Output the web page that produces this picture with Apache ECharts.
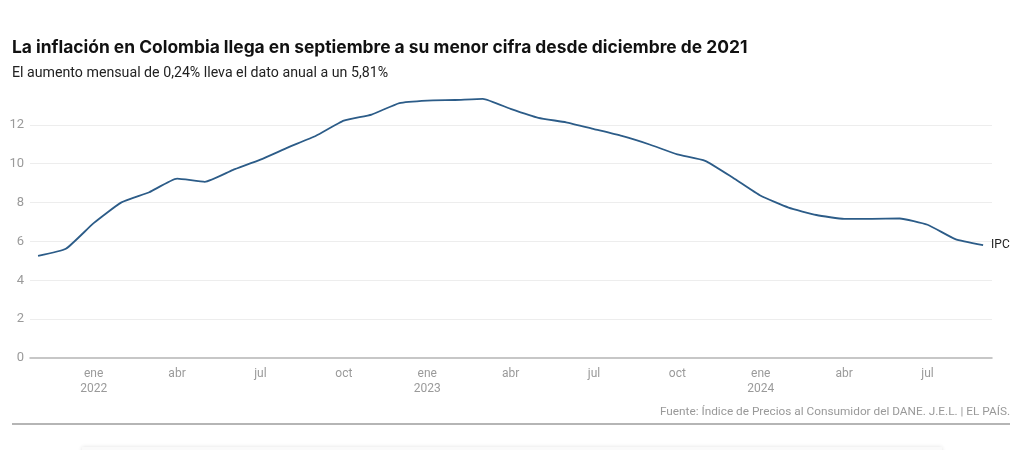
<!DOCTYPE html>
<html>
<head>
<meta charset="utf-8">
<script src="https://cdn.jsdelivr.net/npm/echarts@6/dist/echarts.min.js"></script>
<style>
html,body{margin:0;padding:0;background:#fff;}
#c{width:1024px;height:450px;}
</style>
</head>
<body>
<div id="c"></div>
<script>
// Months from nov 2021 to sep 2024
const months = ['nov21','dic21','ene22','feb22','mar22','abr22','may22','jun22','jul22','ago22','sep22','oct22','nov22','dic22',
  'ene23','feb23','mar23','abr23','may23','jun23','jul23','ago23','sep23','oct23','nov23','dic23',
  'ene24','feb24','mar24','abr24','may24','jun24','jul24','ago24','sep24'];
const ipc = [5.26,5.62,6.94,8.01,8.53,9.23,9.07,9.67,10.21,10.84,11.44,12.22,12.53,13.12,
  13.25,13.28,13.34,12.82,12.36,12.13,11.78,11.43,10.99,10.48,10.15,9.28,
  8.35,7.74,7.36,7.16,7.16,7.18,6.86,6.12,5.81];
const tickIdx = [2,5,8,11,14,17,20,23,26,29,32];
const tickLabels = ['ene\n2022','abr','jul','oct','ene\n2023','abr','jul','oct','ene\n2024','abr','jul'];
const yTicks = [0,2,4,6,8,10,12];

const chart = echarts.init(document.getElementById('c'));
const data = ipc.map((v,i)=>[i,v]);
chart.setOption({
  animation:false,
  grid:{left:30,right:32,top:86,bottom:92},
  xAxis:{
    type:'value', min:-0.29, max:34.32,
    splitLine:{show:false},
    axisLine:{show:true,lineStyle:{color:'#b5b5b5',width:1.5}},
    axisTick:{show:false},
    axisLabel:{
      customValues:tickIdx,
      formatter:function(v){const k=tickIdx.indexOf(Math.round(v));return k>=0?tickLabels[k]:'';},
      color:'#9a9a9a',fontSize:12,fontFamily:'Roboto',lineHeight:15,margin:8
    }
  },
  yAxis:{
    type:'value', min:0, max:14, interval:2,
    axisLine:{show:false},axisTick:{show:false},
    splitLine:{show:true,showMinLine:false,showMaxLine:false,lineStyle:{color:'#ededed',width:1}},
    axisLabel:{
      color:'#9a9a9a',fontSize:13,fontFamily:'Roboto',margin:6,
      formatter:function(v){return yTicks.indexOf(v)>=0?String(v):'';}
    }
  },
  series:[{
    type:'line',data:data,showSymbol:false,smooth:0.15,
    lineStyle:{color:'#2c5c88',width:1.8},
    endLabel:{show:true,formatter:'IPC',color:'#222',fontSize:12,fontFamily:'Roboto',distance:8}
  }],
  graphic:[
    {type:'text',left:12,top:39,style:{text:'La inflación en Colombia llega en septiembre a su menor cifra desde diciembre de 2021',fontSize:17.4,fontWeight:'bold',fontFamily:'Inter',fill:'#111'}},
    {type:'text',left:12,top:66,style:{text:'El aumento mensual de 0,24% lleva el dato anual a un 5,81%',fontSize:14.2,fontFamily:'Roboto',fill:'#222'}},
    {type:'text',right:14,top:406,style:{text:'Fuente: Índice de Precios al Consumidor del DANE. J.E.L. | EL PAÍS.',fontSize:11.8,fontFamily:'Roboto',fill:'#999'}},
    {type:'line',shape:{x1:12,y1:424,x2:1010,y2:424},style:{stroke:'#b5b5b5',lineWidth:2}},
    {type:'rect',shape:{x:82,y:447,width:860,height:20},style:{fill:'#fafafa',shadowBlur:4,shadowColor:'rgba(0,0,0,0.12)'}}
  ]
});
</script>
</body>
</html>
